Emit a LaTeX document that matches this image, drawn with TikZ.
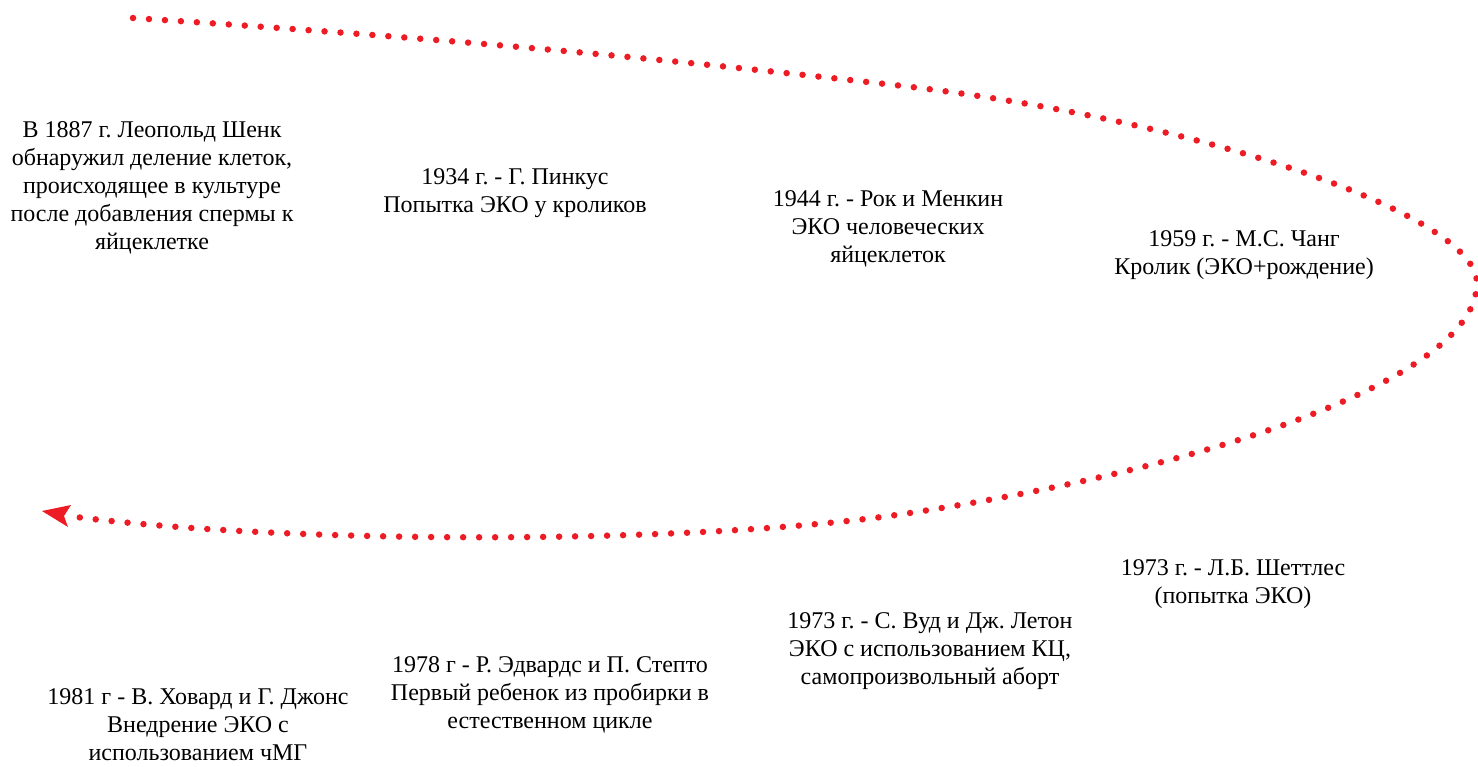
\documentclass[tikz,border=0pt]{standalone}
\usepackage{fontspec}
\setmainfont{Liberation Serif}
\usepackage{tikz}
\usetikzlibrary{arrows.meta}
\definecolor{dotred}{HTML}{ED1C24}
\frenchspacing

\begin{document}
\begin{tikzpicture}[x=1pt, y=-1pt,
  event/.style={align=center, inner sep=0pt, font=\fontsize{24}{28}\selectfont},
  track/.style={draw=dotred, line width=6.5pt, line cap=round, dash pattern=on 0pt off 16pt}]
\useasboundingbox (0,0) rectangle (1478,766);
\coordinate (S) at (133,18);
\coordinate (T) at (903,86);
\coordinate (R) at (1477,283);
\coordinate (M) at (903,514);
\coordinate (E) at (42,511);
\draw[track] (S) .. controls (500,42) and (700,63) .. (T)
  .. controls (1200,120) and (1477,215) .. (R)
  .. controls (1477,380) and (1200,470) .. (M)
  .. controls (700,544) and (300,545) .. (76,517);
\fill[dotred] (E) -- (71,505) -- (64,516) -- (68,527) -- cycle; % arrow head
\node[event] (e1887) at (152,188) {В 1887 г. Леопольд Шенк\\обнаружил деление клеток,\\происходящее в культуре\\после добавления спермы к\\яйцеклетке};
\node[event] (e1934) at (515,193) {1934 г. - Г. Пинкус\\Попытка ЭКО у кроликов};
\node[event] (e1944) at (888,229) {1944 г. - Рок и Менкин\\ЭКО человеческих\\яйцеклеток};
\node[event] (e1959) at (1244,255) {1959 г. - М.С. Чанг\\Кролик (ЭКО+рождение)};
\node[event] (e1973a) at (1233,584) {1973 г. - Л.Б. Шеттлес\\(попытка ЭКО)};
\node[event] (e1973b) at (930,651) {1973 г. - С. Вуд и Дж. Летон\\ЭКО с использованием КЦ,\\самопроизвольный аборт};
\node[event] (e1978) at (550,695) {1978 г - Р. Эдвардс и П. Степто\\Первый ребенок из пробирки в\\естественном цикле};
\node[event] (e1981) at (198,725) {1981 г - В. Ховард и Г. Джонс\\Внедрение ЭКО с\\использованием чМГ};
\end{tikzpicture}
\end{document}
